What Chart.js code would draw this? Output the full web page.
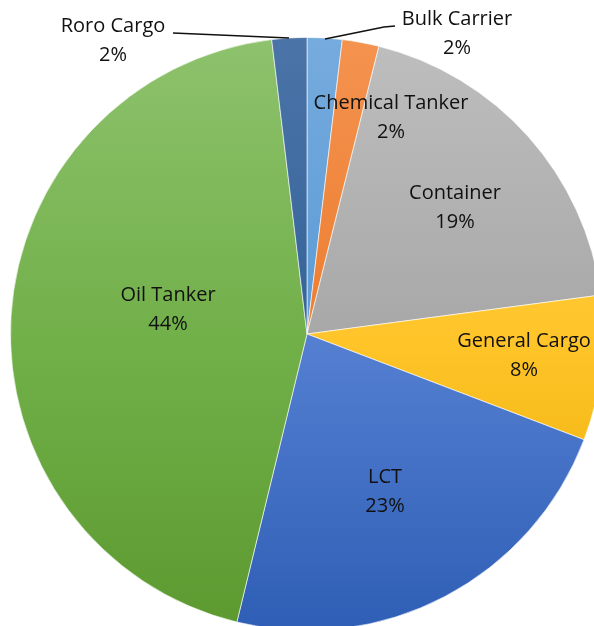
<!DOCTYPE html>
<html>
<head>
<meta charset="utf-8">
<title>Vessel Types</title>
<script src="https://cdn.jsdelivr.net/npm/chart.js@4"></script>
<style>
  html, body { margin: 0; padding: 0; background: #fff; width: 594px; height: 626px; overflow: hidden; }
  #wrap { position: absolute; left: 0; top: 0; width: 614px; height: 668px; }
</style>
</head>
<body>
<div id="wrap"><canvas id="pie" width="614" height="668"></canvas></div>
<script>
// ---- data ----
const labels = ['Bulk Carrier', 'Chemical Tanker', 'Container', 'General Cargo', 'LCT', 'Oil Tanker', 'Roro Cargo'];
const shares = [1.9, 2.0, 19.0, 7.9, 23.0, 44.3, 1.9];
const pctText = ['2%', '2%', '19%', '8%', '23%', '44%', '2%'];

// top / middle / bottom colour of each slice gradient
const topColors = ['#76ABDE', '#F4934F', '#BEBEBE', '#FFD050', '#6690DC', '#8EC26D', '#4B74A8'];
const midColors = ['#5B9BD5', '#ED7D31', '#A8A8A8', '#FFC52A', '#5580D2', '#72B04A', '#34649A'];
const botColors = ['#4F8BC8', '#DF6F28', '#959595', '#E8AC00', '#2E5EB5', '#5C9A30', '#23568A'];

// label anchors, offset from the pie centre (px); leader = polyline from text to slice
const labelSpots = [
  { dx: 150, dy: -301, leader: [[88, -308], [77, -307], [18, -295]] },
  { dx: 84, dy: -217 },
  { dx: 148, dy: -127 },
  { dx: 217, dy: 21 },
  { dx: 78, dy: 157 },
  { dx: -139, dy: -25 },
  { dx: -194, dy: -294, leader: [[-134, -301], [-18, -296]] }
];

const labelPlugin = {
  id: 'sliceLabels',
  afterDatasetsDraw(chart) {
    const ctx = chart.ctx;
    const arc = chart.getDatasetMeta(0).data[0];
    const cx = arc.x, cy = arc.y;
    ctx.save();
    ctx.font = '20px "Open Sans", Lato, sans-serif';
    ctx.fillStyle = '#111';
    ctx.textAlign = 'center';
    ctx.textBaseline = 'middle';
    labelSpots.forEach((s, i) => {
      const x = cx + s.dx, y = cy + s.dy;
      ctx.fillText(labels[i], x, y - 14);
      ctx.fillText(pctText[i], x, y + 15);
      if (s.leader) {
        ctx.beginPath();
        ctx.strokeStyle = '#111';
        ctx.lineWidth = 1.5;
        s.leader.forEach((p, j) => {
          if (j === 0) ctx.moveTo(cx + p[0], cy + p[1]);
          else ctx.lineTo(cx + p[0], cy + p[1]);
        });
        ctx.stroke();
      }
    });
    ctx.restore();
  }
};

new Chart(document.getElementById('pie').getContext('2d'), {
  type: 'pie',
  data: {
    labels: labels,
    datasets: [{
      data: shares,
      backgroundColor: (c) => {
        const area = c.chart.chartArea;
        const i = c.dataIndex;
        if (!area) return midColors[i];
        const g = c.chart.ctx.createLinearGradient(0, area.top, 0, area.bottom);
        g.addColorStop(0, topColors[i]);
        g.addColorStop(0.5, midColors[i]);
        g.addColorStop(1, botColors[i]);
        return g;
      },
      borderColor: 'rgba(255,255,255,0.6)',
      borderWidth: 1,
      hoverOffset: 0
    }]
  },
  options: {
    responsive: false,
    animation: false,
    layout: { padding: { left: 10, right: 10, top: 37, bottom: 37 } },
    plugins: { legend: { display: false }, tooltip: { enabled: false } }
  },
  plugins: [labelPlugin]
});
</script>
</body>
</html>
